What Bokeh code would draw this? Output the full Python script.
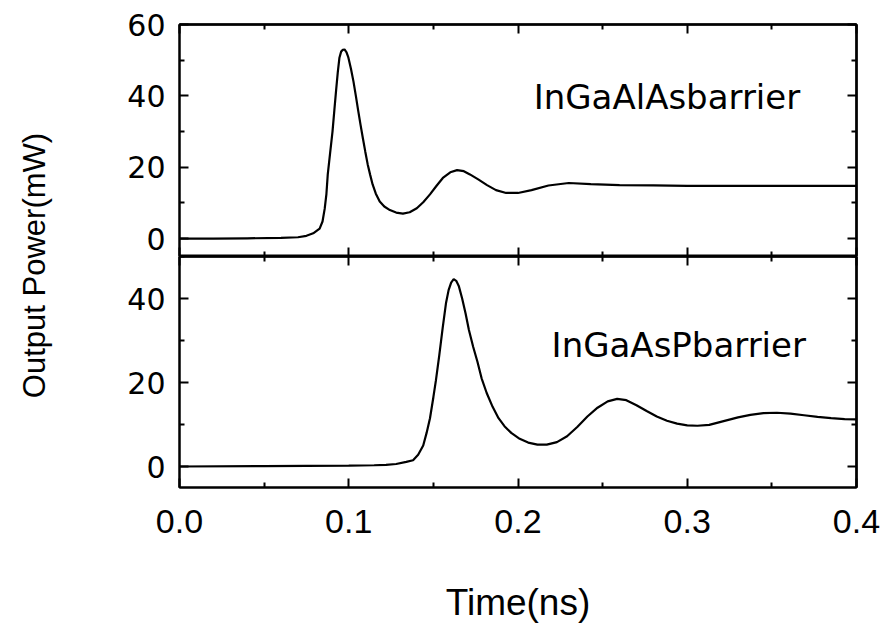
from bokeh.plotting import figure
from bokeh.models import (Range1d, LinearAxis, FixedTicker, PrintfTickFormatter, Label)
from bokeh.layouts import row, column
from bokeh.embed import file_html
from bokeh.resources import INLINE

# ---------------- data ----------------
t_top = [0.000, 0.020, 0.040, 0.060, 0.070, 0.075, 0.079, 0.0828, 0.0845, 0.0858, 0.0868, 0.0876,
         0.0890, 0.0904, 0.0915, 0.0925, 0.0935, 0.0945, 0.0955, 0.0965, 0.0975, 0.0987, 0.0998,
         0.1013, 0.1028, 0.1042, 0.1056, 0.1070, 0.1084, 0.1098, 0.1112, 0.1127, 0.1141, 0.1160,
         0.1183, 0.1210, 0.1243, 0.1280, 0.1320, 0.1360, 0.1402, 0.1440, 0.1480, 0.1520, 0.1556,
         0.1600, 0.1640, 0.1680, 0.1716, 0.1765, 0.1817, 0.1870, 0.1930, 0.2000, 0.2080, 0.2180,
         0.2300, 0.2430, 0.2600, 0.2800, 0.3000, 0.3300, 0.3600, 0.4000]
p_top = [0.0, 0.0, 0.1, 0.2, 0.4, 0.8, 1.5, 2.8, 4.8, 8.4, 12.5, 18.0,
         24.0, 30.0, 36.0, 41.4, 46.5, 50.7, 52.4, 52.9, 53.0, 52.2, 50.7,
         47.6, 44.0, 40.0, 35.8, 31.8, 28.0, 24.3, 20.8, 17.8, 15.2, 12.6,
         10.4, 9.0, 8.0, 7.3, 7.0, 7.4, 8.5, 10.2, 12.4, 14.9, 17.0,
         18.6, 19.2, 18.9, 18.0, 16.6, 15.0, 13.6, 12.8, 12.8, 13.6, 14.9,
         15.6, 15.3, 15.0, 14.9, 14.8, 14.8, 14.8, 14.8]

t_bot = [0.000, 0.050, 0.100, 0.115, 0.122, 0.128, 0.134, 0.138, 0.141, 0.144, 0.146, 0.148,
         0.150, 0.1515, 0.1535, 0.1555, 0.1575, 0.1590, 0.1605, 0.1620, 0.1635, 0.1650, 0.1670,
         0.1690, 0.1710, 0.1735, 0.1760, 0.1785, 0.1815, 0.1850, 0.1885, 0.1920, 0.1960, 0.2010,
         0.2060, 0.2115, 0.2170, 0.2230, 0.2290, 0.2350, 0.2410, 0.2470, 0.2530, 0.2586, 0.2640,
         0.2700, 0.2760, 0.2820, 0.2880, 0.2940, 0.3000, 0.3060, 0.3130, 0.3215, 0.3300, 0.3373,
         0.3450, 0.3530, 0.3610, 0.3690, 0.3770, 0.3850, 0.3930, 0.4000]
p_bot = [0.0, 0.1, 0.2, 0.3, 0.4, 0.6, 1.1, 1.5, 2.8, 5.0, 8.0, 11.5,
         16.5, 20.5, 26.5, 33.0, 39.0, 42.0, 43.8, 44.6, 44.2, 43.0, 40.0,
         36.5, 32.5, 28.5, 25.0, 21.0, 17.5, 14.2, 11.5, 9.6, 8.0, 6.6,
         5.7, 5.2, 5.2, 5.8, 7.2, 9.4, 11.9, 14.0, 15.5, 16.1, 15.8,
         14.6, 13.2, 11.9, 10.9, 10.2, 9.8, 9.7, 9.9, 10.8, 11.7, 12.3,
         12.7, 12.8, 12.6, 12.2, 11.8, 11.5, 11.3, 11.2]

x_ticks = [0.0, 0.1, 0.2, 0.3, 0.4]
x_minor = [0.05, 0.15, 0.25, 0.35]
y_ticks_top = [0, 20, 40, 60]
y_minor_top = [10, 30, 50]
y_ticks_bot = [0, 20, 40]
y_minor_bot = [10, 30, 50]

label_top = "InGaAlAsbarrier"
label_bot = "InGaAsPbarrier"
x_title = "Time(ns)"
y_title = "Output Power(mW)"

# ---------------- styling ----------------
NARROW = "Liberation Sans Narrow, Liberation Sans"
WIDE = "DejaVu Sans"
LW = 2

xr = Range1d(0, 0.4)


def base_axis(ax):
    ax.major_tick_in = 9
    ax.major_tick_out = 0
    ax.minor_tick_in = 5
    ax.minor_tick_out = 0
    ax.major_tick_line_width = LW
    ax.minor_tick_line_width = LW
    ax.major_tick_line_color = "black"
    ax.minor_tick_line_color = "black"
    ax.axis_line_width = LW
    ax.axis_line_color = "black"


def labeled_axis(p, side, ticks, minor, fmt, font, size, standoff):
    ax = LinearAxis(ticker=FixedTicker(ticks=ticks, minor_ticks=minor))
    base_axis(ax)
    if fmt is not None:
        ax.formatter = fmt
    ax.major_label_text_font = font
    ax.major_label_text_font_size = size
    ax.major_label_text_color = "black"
    ax.major_label_text_line_height = 1.0
    ax.major_label_standoff = standoff
    p.add_layout(ax, side)
    return ax


def bare_ticks(p, side, ticks, minor):
    # tick marks only (drawn as "minor" ticks, so no label text is produced)
    for positions, length in ((ticks, 9), (minor, 5)):
        ax = LinearAxis(ticker=FixedTicker(ticks=[], minor_ticks=positions))
        base_axis(ax)
        ax.minor_tick_in = length
        ax.major_label_standoff = 0
        p.add_layout(ax, side)


def make_panel(yr, t, pw, yt, ym, show_x_labels, h_frame, mb_top, mb_bottom):
    p = figure(x_range=xr, y_range=yr, frame_width=677, frame_height=h_frame,
               min_border_left=109, min_border_right=37, min_border_top=mb_top,
               min_border_bottom=mb_bottom, output_backend="svg", toolbar_location=None,
               x_axis_location=None, y_axis_location=None)
    p.xgrid.visible = False
    p.ygrid.visible = False
    p.outline_line_color = "black"
    p.outline_line_width = LW
    p.background_fill_color = "white"
    p.border_fill_color = "white"

    if show_x_labels:
        xb = labeled_axis(p, "below", x_ticks, x_minor, PrintfTickFormatter(format="%.1f"),
                          NARROW, "34px", 22)
        xb.axis_label = x_title
        xb.axis_label_text_font = NARROW
        xb.axis_label_text_font_size = "37px"
        xb.axis_label_text_font_style = "normal"
        xb.axis_label_text_color = "black"
        xb.axis_label_standoff = 46
    else:
        bare_ticks(p, "below", x_ticks, x_minor)
    bare_ticks(p, "above", x_ticks, x_minor)
    labeled_axis(p, "left", yt, ym, None, WIDE, "30px", 14)
    bare_ticks(p, "right", yt, ym)

    p.line(t, pw, line_color="black", line_width=2.2)
    return p


p1 = make_panel(Range1d(-5, 60), t_top, p_top, y_ticks_top, y_minor_top, False, 232, 24, 0)
p1.add_layout(Label(x=0.288, y=39.6, text=label_top, text_align="center",
                    text_baseline="alphabetic", text_font=WIDE, text_font_size="34px",
                    text_color="black"))

p2 = make_panel(Range1d(-5, 50), t_bot, p_bot, y_ticks_bot, y_minor_bot, True, 231, 0, 142)
p2.add_layout(Label(x=0.295, y=29.0, text=label_bot, text_align="center",
                    text_baseline="alphabetic", text_font=WIDE, text_font_size="34px",
                    text_color="black"))

# y-title strip
yt_fig = figure(width=70, height=629, x_range=Range1d(0, 70), y_range=Range1d(0, 629),
                min_border=0, output_backend="svg", toolbar_location=None,
                x_axis_location=None, y_axis_location=None)
yt_fig.xgrid.visible = False
yt_fig.ygrid.visible = False
yt_fig.outline_line_color = None
yt_fig.add_layout(Label(x=34, y=629 - 265, text=y_title, angle=1.5707963, angle_units="rad",
                        text_align="center", text_baseline="middle", text_font="Liberation Sans",
                        text_font_size="31px", text_color="black"))

layout = row(yt_fig, column(p1, p2, spacing=0), spacing=0)

open("out.html", "w").write(file_html(layout, INLINE))
